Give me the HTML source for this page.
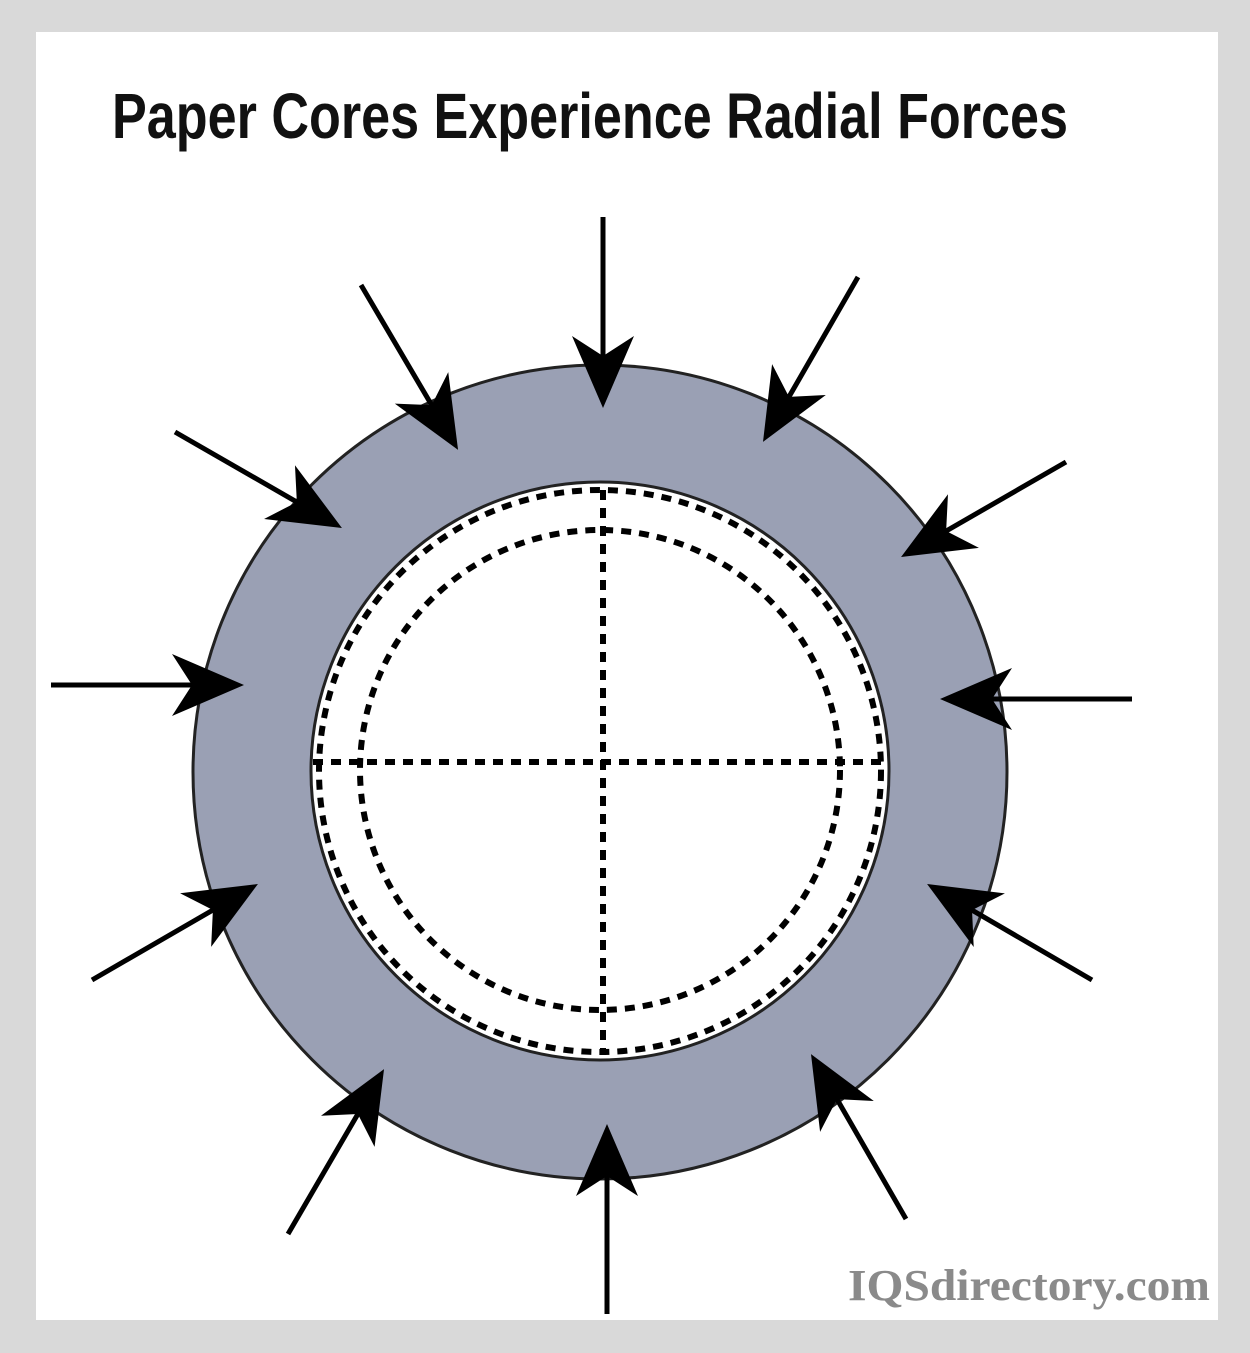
<!DOCTYPE html>
<html><head><meta charset="utf-8"><style>
html,body{margin:0;padding:0;background:#fff}
svg{display:block}
</style></head><body>
<svg width="1250" height="1353" viewBox="0 0 1250 1353" xmlns="http://www.w3.org/2000/svg">
<defs>
<marker id="ah" markerUnits="userSpaceOnUse" viewBox="-80 -40 90 80" refX="-8" refY="0" markerWidth="90" markerHeight="80" orient="auto">
<polygon points="0,0 -72,-31 -52,0 -72,31" fill="#000"/>
</marker>
</defs>
<rect x="0" y="0" width="1250" height="1353" fill="#d9d9d9"/>
<rect x="36" y="32" width="1182" height="1288" fill="#fff"/>
<text x="112" y="138" font-family="Liberation Sans, sans-serif" font-weight="bold" font-size="64" textLength="956" lengthAdjust="spacingAndGlyphs" fill="#111">Paper Cores Experience Radial Forces</text>
<circle cx="600" cy="772" r="407" fill="#9aa0b4" stroke="#222" stroke-width="3"/>
<circle cx="600" cy="771" r="289" fill="#fff" stroke="#222" stroke-width="3"/>
<g fill="none" stroke="#000" stroke-width="6" stroke-dasharray="10 8">
<circle cx="600" cy="771" r="281"/>
<circle cx="600" cy="770" r="240"/>
<line x1="603" y1="490" x2="603" y2="1055"/>
<line x1="313" y1="762" x2="888" y2="762"/>
</g>
<g stroke="#000" stroke-width="5" marker-end="url(#ah)">
<line x1="603" y1="217" x2="603" y2="400"/>
<line x1="361" y1="285" x2="454" y2="443"/>
<line x1="858" y1="277" x2="767" y2="435"/>
<line x1="175" y1="432" x2="335" y2="524"/>
<line x1="1066" y1="462" x2="908" y2="553"/>
<line x1="51" y1="685" x2="236" y2="685"/>
<line x1="1132" y1="699" x2="948" y2="699"/>
<line x1="92" y1="980" x2="251" y2="888"/>
<line x1="1092" y1="980" x2="934" y2="888"/>
<line x1="288" y1="1234" x2="380" y2="1076"/>
<line x1="906" y1="1219" x2="815" y2="1061"/>
<line x1="607" y1="1314" x2="607" y2="1132"/>
</g>
<text x="848" y="1300" font-family="Liberation Serif, serif" font-weight="bold" font-size="44" textLength="362" lengthAdjust="spacingAndGlyphs" fill="#8a8a8a">IQSdirectory.com</text>
</svg>
</body></html>
